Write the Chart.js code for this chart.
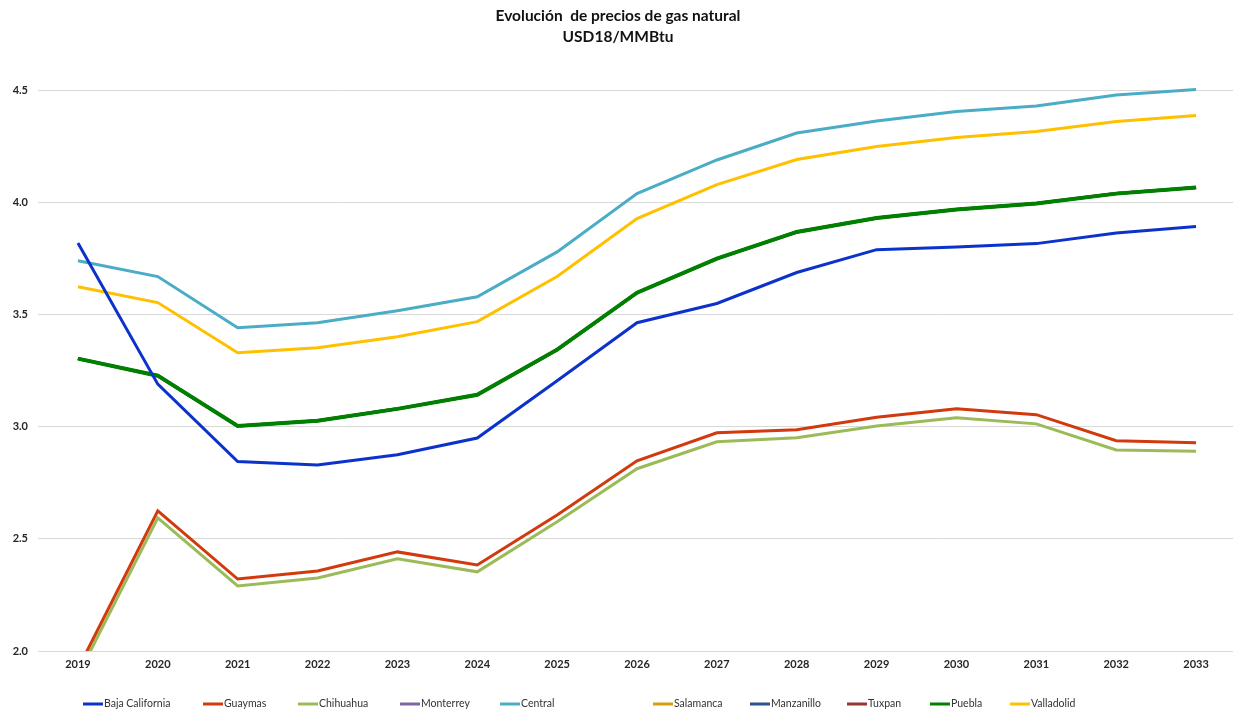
<!DOCTYPE html>
<html lang="es">
<head>
<meta charset="utf-8">
<title>Evolución de precios de gas natural</title>
<script src="https://cdn.jsdelivr.net/npm/chart.js@4.4.1/dist/chart.umd.min.js"></script>
<style>
  html, body { margin: 0; padding: 0; background: #ffffff; overflow: hidden; }
  #wrap { position: relative; width: 1236px; height: 711px; }
</style>
</head>
<body>
<div id="wrap"><canvas id="chart"></canvas></div>
<script>
// Years on the horizontal axis
const years = ['2019', '2020', '2021', '2022', '2023', '2024', '2025', '2026',
               '2027', '2028', '2029', '2030', '2031', '2032', '2033'];

// Natural gas price by region, USD18/MMBtu
const bajaCalifornia = [3.82, 3.19, 2.845, 2.83, 2.875, 2.95, 3.205, 3.464, 3.55, 3.688, 3.79, 3.802, 3.817, 3.864, 3.893];
const guaymas        = [1.92, 2.625, 2.321, 2.357, 2.442, 2.384, 2.607, 2.848, 2.973, 2.987, 3.043, 3.08, 3.054, 2.938, 2.929];
const chihuahua      = [1.89, 2.594, 2.29, 2.326, 2.411, 2.353, 2.576, 2.813, 2.933, 2.951, 3.004, 3.04, 3.013, 2.897, 2.891];
const monterrey      = [3.304, 3.228, 3.004, 3.027, 3.08, 3.143, 3.344, 3.598, 3.75, 3.869, 3.931, 3.969, 3.996, 4.04, 4.067];
const central        = [3.741, 3.67, 3.442, 3.464, 3.518, 3.58, 3.78, 4.04, 4.19, 4.31, 4.364, 4.406, 4.431, 4.48, 4.504];
const salamanca      = [3.304, 3.228, 3.004, 3.027, 3.08, 3.143, 3.344, 3.598, 3.75, 3.869, 3.931, 3.969, 3.996, 4.04, 4.067];
const manzanillo     = [3.304, 3.228, 3.004, 3.027, 3.08, 3.143, 3.344, 3.598, 3.75, 3.869, 3.931, 3.969, 3.996, 4.04, 4.067];
const tuxpan         = [3.304, 3.228, 3.004, 3.027, 3.08, 3.143, 3.344, 3.598, 3.75, 3.869, 3.931, 3.969, 3.996, 4.04, 4.067];
const puebla         = [3.304, 3.228, 3.004, 3.027, 3.08, 3.143, 3.344, 3.598, 3.75, 3.869, 3.931, 3.969, 3.996, 4.04, 4.067];
const valladolid     = [3.625, 3.554, 3.33, 3.353, 3.402, 3.469, 3.67, 3.929, 4.08, 4.192, 4.25, 4.29, 4.317, 4.362, 4.388];

// Value-axis range and step
const yMin = 2.0;
const yMax = 4.65;
const yStep = 0.5;

const FONT = 'Lato, "Noto Sans", sans-serif';

const series = [
  { label: 'Baja California', data: bajaCalifornia, color: '#0b33cc', width: 3,   order: 0 },
  { label: 'Guaymas',         data: guaymas,        color: '#d2390c', width: 3,   order: 0 },
  { label: 'Chihuahua',       data: chihuahua,      color: '#9bbb59', width: 3,   order: 0 },
  { label: 'Monterrey',       data: monterrey,      color: '#8064a2', width: 3,   order: 2 },
  { label: 'Central',         data: central,        color: '#4bacc6', width: 3,   order: 0 },
  { label: 'Salamanca',       data: salamanca,      color: '#d4a00f', width: 3,   order: 2 },
  { label: 'Manzanillo',      data: manzanillo,     color: '#2c5289', width: 3,   order: 2 },
  { label: 'Tuxpan',          data: tuxpan,         color: '#943634', width: 3,   order: 2 },
  { label: 'Puebla',          data: puebla,         color: '#008000', width: 4,   order: 1 },
  { label: 'Valladolid',      data: valladolid,     color: '#ffc000', width: 3,   order: 0 }
];

// Bottom legend drawn in fixed slots beneath the axis labels
const legendSlots = [83, 203, 298, 400, 500, 653, 750, 847, 930, 1010];
const bottomLegend = {
  id: 'bottomLegend',
  afterDraw(chart) {
    const ctx = chart.ctx;
    const y = 704;
    ctx.save();
    ctx.font = '10.5px ' + FONT;
    ctx.textBaseline = 'middle';
    ctx.textAlign = 'left';
    chart.data.datasets.forEach((ds, i) => {
      const x = legendSlots[i];
      ctx.strokeStyle = ds.borderColor;
      ctx.lineWidth = 3;
      ctx.lineCap = 'butt';
      ctx.beginPath();
      ctx.moveTo(x, y);
      ctx.lineTo(x + 20, y);
      ctx.stroke();
      ctx.fillStyle = '#333333';
      ctx.fillText(ds.label, x + 21, y);
    });
    ctx.restore();
  }
};

new Chart(document.getElementById('chart'), {
  type: 'line',
  data: {
    labels: years,
    datasets: series.map(s => ({
      label: s.label,
      data: s.data,
      borderColor: s.color,
      backgroundColor: s.color,
      borderWidth: s.width,
      pointRadius: 0,
      pointHoverRadius: 0,
      tension: 0,
      fill: false,
      order: s.order
    }))
  },
  options: {
    responsive: true,
    maintainAspectRatio: false,
    animation: false,
    events: [],
    layout: { padding: 0 },
    plugins: {
      legend: { display: false },
      tooltip: { enabled: false },
      title: {
        display: true,
        text: ['Evolución  de precios de gas natural', 'USD18/MMBtu'],
        color: '#111111',
        font: { family: FONT, size: 15.5, weight: 'bold', lineHeight: 1.35 },
        padding: { top: 6, bottom: 9 }
      }
    },
    scales: {
      x: {
        offset: true,
        grid: { display: false, drawTicks: false, offset: true },
        border: { display: false },
        ticks: {
          color: '#262626',
          font: { family: FONT, size: 11, weight: 'bold' },
          padding: 7,
          maxRotation: 0,
          autoSkip: false
        },
        afterFit(scale) { scale.height = 60; }
      },
      y: {
        min: yMin,
        max: yMax,
        grid: { color: '#d9d9d9', lineWidth: 1, drawTicks: false },
        border: { display: false },
        ticks: {
          stepSize: yStep,
          color: '#262626',
          font: { family: FONT, size: 11, weight: 'bold' },
          padding: 10,
          callback: v => Number(v).toFixed(1)
        },
        afterBuildTicks(scale) {
          scale.ticks = scale.ticks.filter(t => Math.abs(t.value / yStep - Math.round(t.value / yStep)) < 1e-6);
        },
        afterFit(scale) { scale.width = 38; }
      }
    }
  },
  plugins: [bottomLegend]
});
</script>
</body>
</html>
